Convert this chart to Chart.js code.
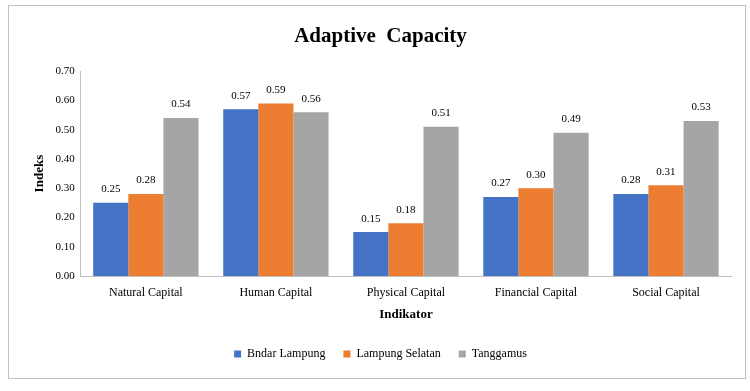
<!DOCTYPE html>
<html>
<head>
<meta charset="utf-8">
<script src="https://cdn.jsdelivr.net/npm/chart.js@4"></script>
<style>
  body { margin: 0; background: #fff; }
  #frame { position: absolute; left: 8px; top: 5px; width: 736px; height: 372px; border: 1px solid #bfbfbf; }
</style>
</head>
<body>
<div id="frame"><canvas id="capChart" width="736" height="372"></canvas></div>
<script>
const categories = ['Natural Capital', 'Human Capital', 'Physical Capital', 'Financial Capital', 'Social Capital'];
const bandarLampung = [0.25, 0.57, 0.15, 0.27, 0.28];
const lampungSelatan = [0.28, 0.59, 0.18, 0.30, 0.31];
const tanggamus = [0.54, 0.56, 0.51, 0.49, 0.53];

const serif = "'Liberation Serif', 'Times New Roman', serif";

// draw the value above each bar
const valueLabels = {
    id: 'valueLabels',
    afterDatasetsDraw(chart) {
        const ctx = chart.ctx;
        ctx.save();
        ctx.font = '11px ' + serif;
        ctx.fillStyle = '#000';
        ctx.textAlign = 'center';
        ctx.textBaseline = 'bottom';
        chart.data.datasets.forEach((ds, i) => {
            chart.getDatasetMeta(i).data.forEach((bar, j) => {
                ctx.fillText(ds.data[j].toFixed(2), bar.x, bar.y - 8);
            });
        });
        ctx.restore();
    }
};

const ctx = document.getElementById('capChart').getContext('2d');
const capChart = new Chart(ctx, {
    type: 'bar',
    data: {
        labels: categories,
        datasets: [
            { label: 'Bndar Lampung', data: bandarLampung, backgroundColor: '#4472c4' },
            { label: 'Lampung Selatan', data: lampungSelatan, backgroundColor: '#ed7d31' },
            { label: 'Tanggamus', data: tanggamus, backgroundColor: '#a5a5a5' }
        ]
    },
    options: {
        responsive: false,
        animation: false,
        categoryPercentage: 0.81,
        barPercentage: 1,
        layout: { padding: { left: 21, right: 14, top: 10, bottom: 8 } },
        scales: {
            x: {
                grid: { display: false, drawTicks: false },
                border: { color: '#bfbfbf' },
                ticks: { color: '#000', font: { family: serif, size: 12 }, padding: 10 },
                title: { display: true, text: 'Indikator', color: '#000', font: { family: serif, size: 13, weight: 'bold' }, padding: { top: -4, bottom: 8 } }
            },
            y: {
                min: 0,
                max: 0.7,
                grid: { display: false, drawTicks: false },
                border: { color: '#bfbfbf' },
                ticks: {
                    stepSize: 0.1,
                    color: '#000',
                    padding: 6,
                    font: { family: serif, size: 11 },
                    callback: v => v.toFixed(2)
                },
                title: { display: true, text: 'Indeks', color: '#000', font: { family: serif, size: 13, weight: 'bold' }, padding: { top: 2, bottom: 2 } }
            }
        },
        plugins: {
            title: {
                display: true,
                text: 'Adaptive  Capacity',
                color: '#000',
                font: { family: serif, size: 21, weight: 'bold' },
                padding: { top: 8, bottom: 22 }
            },
            legend: {
                position: 'bottom',
                labels: {
                    color: '#000',
                    font: { family: serif, size: 12 },
                    usePointStyle: true,
                    pointStyle: 'rect',
                    boxWidth: 7,
                    boxHeight: 7,
                    padding: 18
                }
            },
            tooltip: { enabled: false }
        }
    },
    plugins: [valueLabels]
});
</script>
</body>
</html>
